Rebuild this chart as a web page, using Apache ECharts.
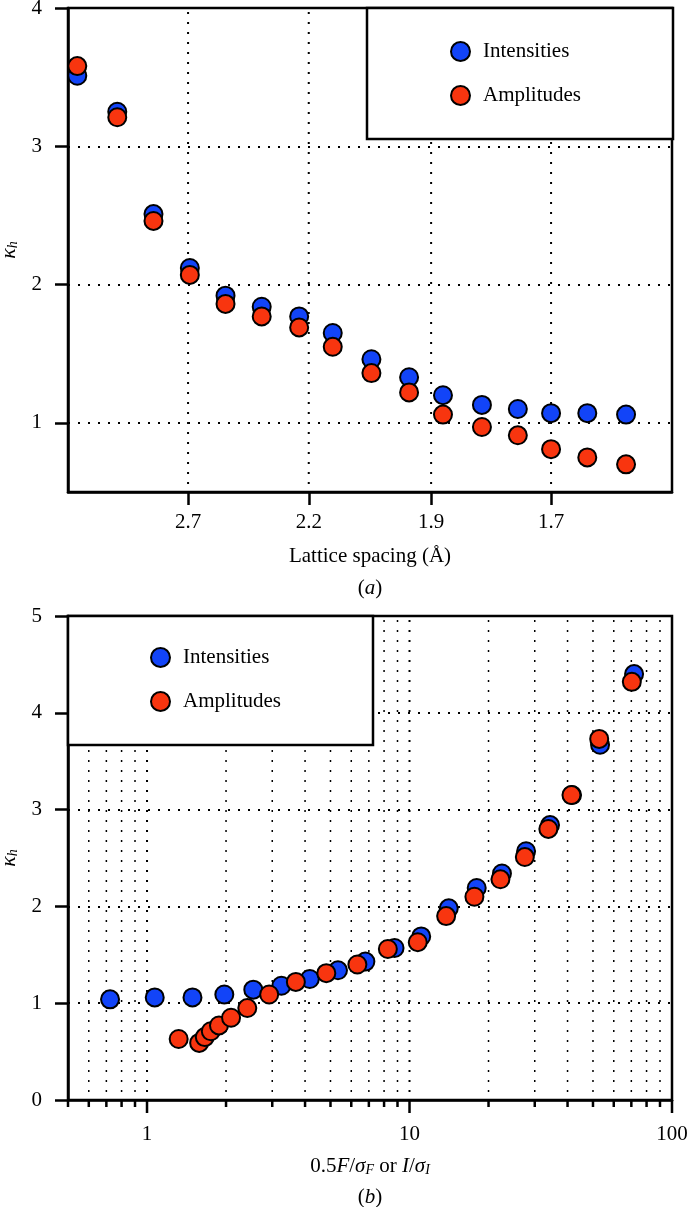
<!DOCTYPE html>
<html><head><meta charset="utf-8">
<script src="https://cdn.jsdelivr.net/npm/echarts@6/dist/echarts.min.js"></script>
<style>html,body{margin:0;padding:0;background:#fff}#c{width:688px;height:1207px}</style>
</head><body><div id="c"></div>
<script>
// ---------- Panel (a): kappa_h vs lattice spacing ----------
const latticeSpacing = [3.69, 3.22, 2.92, 2.69, 2.51, 2.36, 2.23, 2.13, 2.03, 1.945, 1.877, 1.807, 1.749, 1.700, 1.651, 1.603];
const kappaIntensitiesA = [3.51, 3.25, 2.51, 2.12, 1.92, 1.84, 1.77, 1.65, 1.46, 1.33, 1.20, 1.13, 1.10, 1.07, 1.07, 1.06];
const kappaAmplitudesA = [3.58, 3.21, 2.46, 2.07, 1.86, 1.77, 1.69, 1.55, 1.36, 1.22, 1.06, 0.97, 0.91, 0.81, 0.75, 0.70];
const spacingTickLabels = [2.7, 2.2, 1.9, 1.7];
const kappaTicksA = [1, 2, 3, 4];

// ---------- Panel (b): kappa_h vs signal-to-noise ----------
const snrIntensities = [0.723, 1.07, 1.49, 1.97, 2.54, 3.25, 4.17, 5.34, 6.79, 8.77, 11.08, 14.11, 18.03, 22.5, 27.8, 34.3, 41.6, 53.2, 71.7];
const kappaIntensitiesB = [1.04, 1.06, 1.06, 1.09, 1.14, 1.18, 1.25, 1.34, 1.43, 1.57, 1.69, 1.98, 2.19, 2.34, 2.57, 2.84, 3.15, 3.67, 4.40];
const snrAmplitudes = [1.32, 1.58, 1.66, 1.75, 1.88, 2.09, 2.41, 2.92, 3.69, 4.82, 6.33, 8.27, 10.75, 13.79, 17.67, 22.2, 27.5, 33.8, 41.4, 52.8, 70.3];
const kappaAmplitudesB = [0.63, 0.59, 0.65, 0.71, 0.77, 0.85, 0.95, 1.09, 1.22, 1.31, 1.40, 1.56, 1.63, 1.90, 2.10, 2.28, 2.51, 2.80, 3.15, 3.73, 4.32];
const snrMajorTicks = [1, 10, 100];
const snrMinorTicks = [0.5, 0.6, 0.7, 0.8, 0.9, 2, 3, 4, 5, 6, 7, 8, 9, 20, 30, 40, 50, 60, 70, 80, 90];

// ---------- helpers ----------
const invSq = d => 1 / (d * d);           // panel (a) x axis is linear in 1/d^2
const FONT = 'Liberation Serif';
const BLUE = '#1244f8', RED = '#f8350f';
const txt = { fontFamily: FONT, fontSize: 21, color: '#000' };
const dotted = { color: '#000', width: 2, type: [2, 8] };

function vGrid(idx, values, width, lo, hi) {
  return {
    type: 'custom', xAxisIndex: idx, yAxisIndex: idx, silent: true, z: 1, clip: false,
    data: values.filter(v => v > lo && v < hi).map(v => [v, 1]),
    renderItem(params, api) {
      const cs = params.coordSys;
      const x = api.coord([api.value(0), 1])[0];
      return { type: 'line', shape: { x1: x, y1: cs.y + 4, x2: x, y2: cs.y + cs.height },
        style: { stroke: '#000', lineWidth: width, lineDash: [2, 8], lineCap: 'butt' } };
    }
  };
}
function xTicks(idx, values, len) {
  return {
    type: 'custom', xAxisIndex: idx, yAxisIndex: idx, silent: true, z: 5, clip: false,
    data: values.map(v => [v, 1]),
    renderItem(params, api) {
      const cs = params.coordSys;
      const x = api.coord([api.value(0), 1])[0];
      const yb = cs.y + cs.height;
      return { type: 'line', shape: { x1: x, y1: yb, x2: x, y2: yb + len },
        style: { stroke: '#000', lineWidth: 2.5 } };
    }
  };
}
const point = (name, color, data, idx) => ({
  name, type: 'scatter', xAxisIndex: idx, yAxisIndex: idx, z: 3,
  symbol: 'circle', symbolSize: 18, data,
  itemStyle: { color, borderColor: '#000', borderWidth: 2, opacity: 1 },
  emphasis: { disabled: true }
});
const legendBase = {
  orient: 'vertical', data: ['Intensities', 'Amplitudes'], icon: 'circle',
  itemWidth: 19, itemHeight: 19, itemGap: 23, selectedMode: false,
  backgroundColor: '#fff', borderColor: '#000', borderWidth: 2.5, borderRadius: 0,
  textStyle: Object.assign({}, txt, { padding: [0, 0, 0, 8] })
};
const kappaName = {
  name: '{i|κ}{s|h}', nameLocation: 'middle', nameGap: 40,
  nameTextStyle: Object.assign({}, txt, { lineHeight: 24, rich: {
    i: Object.assign({}, txt, { fontStyle: 'italic', fontSize: 22, lineHeight: 24, verticalAlign: 'bottom' }),
    s: Object.assign({}, txt, { fontStyle: 'italic', fontSize: 14, lineHeight: 12, verticalAlign: 'bottom' }) } })
};
const axisLine = { show: true, onZero: false, lineStyle: { color: '#000', width: 2.5 } };

const xTickValsA = spacingTickLabels.map(invSq);

const option = {
  animation: false,
  backgroundColor: '#fff',
  grid: [
    { left: 68, top: 8, width: 604, height: 484, show: true, borderColor: '#000', borderWidth: 2.5, backgroundColor: 'transparent', containLabel: false, outerBoundsMode: 'none' },
    { left: 68, top: 616, width: 604, height: 484, show: true, borderColor: '#000', borderWidth: 2.5, backgroundColor: 'transparent', containLabel: false, outerBoundsMode: 'none' }
  ],
  legend: [
    Object.assign({}, legendBase, { left: 367, top: 8, padding: [33, 92, 33, 83] }),
    Object.assign({}, legendBase, { left: 68, top: 616, padding: [31, 92, 33, 82] })
  ],
  xAxis: [
    { type: 'value', gridIndex: 0, min: 0.0681, max: 0.4156,
      axisLine, splitLine: { show: false },
      axisTick: { show: true, customValues: xTickValsA, length: 13, lineStyle: { color: '#000', width: 2.5 } },
      axisLabel: Object.assign({}, txt, { customValues: xTickValsA, margin: 20,
        formatter: v => (1 / Math.sqrt(v)).toFixed(1) }),
      name: 'Lattice spacing (Å)\n({i|a})', nameLocation: 'middle', nameGap: 48,
      nameTextStyle: Object.assign({}, txt, { lineHeight: 32, rich: {
        i: Object.assign({}, txt, { fontStyle: 'italic', lineHeight: 32 }) } }) },
    { type: 'log', logBase: 10, gridIndex: 1, min: 0.5, max: 100,
      axisLine, splitLine: { show: false }, minorTick: { show: false }, axisTick: { show: false },
      axisLabel: Object.assign({}, txt, { margin: 24,
        formatter: v => (snrMajorTicks.indexOf(v) >= 0 ? String(v) : '') }),
      name: '{n|0.5}{i|F}{n|/}{i|σ}{s|F}{n| or }{i|I}{n|/}{i|σ}{s|I}\n{n|(}{i|b}{n|)}', nameLocation: 'middle', nameGap: 45,
      nameTextStyle: Object.assign({}, txt, { lineHeight: 31, rich: {
        n: Object.assign({}, txt, { lineHeight: 31, verticalAlign: 'bottom' }),
        i: Object.assign({}, txt, { fontStyle: 'italic', lineHeight: 31, verticalAlign: 'bottom' }),
        s: Object.assign({}, txt, { fontStyle: 'italic', fontSize: 14, lineHeight: 19, verticalAlign: 'bottom' }) } }) }
  ],
  yAxis: [
    Object.assign({ type: 'value', gridIndex: 0, min: 0.5, max: 4,
      axisLine,
      axisTick: { show: true, customValues: kappaTicksA, length: 13, lineStyle: { color: '#000', width: 2.5 } },
      axisLabel: Object.assign({}, txt, { customValues: kappaTicksA, margin: 26 }),
      splitLine: { show: true, lineStyle: dotted } }, kappaName),
    Object.assign({ type: 'value', gridIndex: 1, min: 0, max: 5, interval: 1,
      axisLine,
      axisTick: { show: true, length: 13, lineStyle: { color: '#000', width: 2.5 } },
      axisLabel: Object.assign({}, txt, { margin: 26 }),
      splitLine: { show: true, lineStyle: dotted } }, kappaName)
  ],
  series: [
    vGrid(0, xTickValsA, 2, 0.0681, 0.4156),
    vGrid(1, snrMajorTicks, 2, 0.5, 100),
    vGrid(1, snrMinorTicks, 1.5, 0.5, 100),
    xTicks(1, snrMajorTicks, 13),
    xTicks(1, snrMinorTicks, 7),
    point('Intensities', BLUE, latticeSpacing.map((d, i) => [invSq(d), kappaIntensitiesA[i]]), 0),
    point('Amplitudes', RED, latticeSpacing.map((d, i) => [invSq(d), kappaAmplitudesA[i]]), 0),
    point('Intensities', BLUE, snrIntensities.map((s, i) => [s, kappaIntensitiesB[i]]), 1),
    point('Amplitudes', RED, snrAmplitudes.map((s, i) => [s, kappaAmplitudesB[i]]), 1)
  ]
};
const chart = echarts.init(document.getElementById('c'), null, { renderer: 'canvas' });
chart.setOption(option);
</script>
</body></html>
